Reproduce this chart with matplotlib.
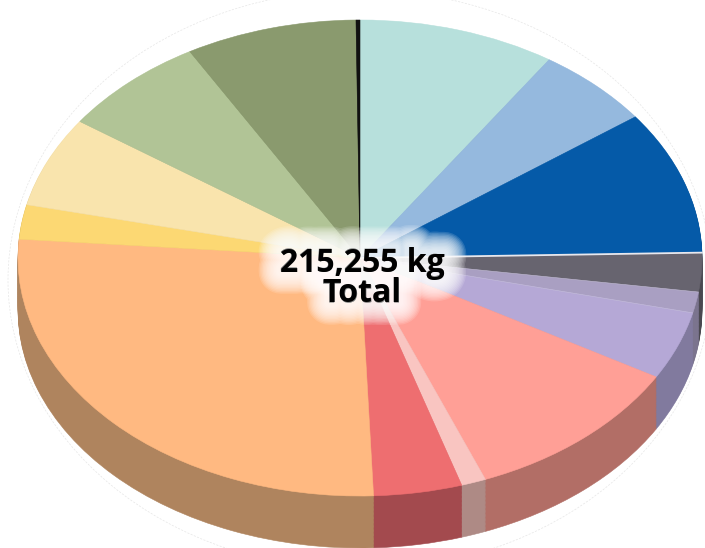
import numpy as np
import matplotlib
matplotlib.use("Agg")
import matplotlib.pyplot as plt
import matplotlib.patheffects as pe
from matplotlib.patches import Ellipse

# slices clockwise from 12 o'clock, kg
slice_kg = [20030, 11960, 20930, 5680, 3050, 9930, 22970, 2510, 8970,
            57760, 5020, 13150, 15010, 17400, 400]
top_colors = ["#B7E0DC", "#95B9DE", "#055AA8", "#67646F", "#A99FC2", "#B5A8D6", "#FF9F96",
              "#F9C5C1", "#EE6E70", "#FFB981", "#FCD873", "#F9E4AD", "#B1C496", "#8A9A6E", "#111111"]
wall_colors = ["#7E9B98", "#67809A", "#043E74", "#4A4850", "#7B748E", "#817A9E", "#B26E66",
               "#AE8A85", "#A34A4E", "#AF845E", "#AE9550", "#AC9E78", "#7A8868", "#5F6B4C", "#111111"]
total_label = "215,255 kg"
sub_label = "Total"

# pixel geometry of the ellipse
CX, CY, RX, RY = 360, 258, 342, 238
DEPTH = 52 / RY


def draw_pie(ax, colors, off):
    wedges, _ = ax.pie(slice_kg, colors=colors, startangle=90, counterclock=False,
                       radius=1, center=(0, -off))
    for w, c in zip(wedges, colors):
        w.set_edgecolor(c)
        w.set_linewidth(0.4)


def main():
    fig = plt.figure(figsize=(7.05, 5.48), dpi=100)
    ax = fig.add_axes([0, 0, 1, 1])

    # faint outline behind the pie
    ax.add_patch(Ellipse((0, -22 / RY), 2 * 352 / RX, 2 * 290 / RY, fill=False,
                         ec="#E6E6E6", lw=0.5, ls=(0, (3, 2)), zorder=0))

    # side wall: stack of darker pies going down
    for off in np.linspace(DEPTH, 0.004, 40):
        draw_pie(ax, wall_colors, off)
    draw_pie(ax, top_colors, 0)

    # pale seams around the dark grey slice
    edges = np.cumsum(slice_kg) / np.sum(slice_kg) * 2 * np.pi
    for i, lw, a in [(2, 1.3, 1.0), (3, 0.4, 0.4), (4, 0.4, 0.4)]:
        ax.plot([0, np.sin(edges[i])], [0, np.cos(edges[i])], color="#E8E8EE", lw=lw, alpha=a, zorder=5)

    ax.set_aspect("auto")
    ax.set_xlim(-CX / RX, (705 - CX) / RX)
    ax.set_ylim((CY - 548) / RY, CY / RY)
    ax.axis("off")

    lines = [(total_label, 263), (sub_label, 294)]

    # white glow behind the label, many thin passes so it fades out softly
    for lw in np.arange(32, 4, -2):
        for txt, py in lines:
            ax.text((362 - CX) / RX, (CY - py) / RY, txt, ha="center", va="center",
                    family="Open Sans", weight="bold", fontsize=23, color="none", zorder=6,
                    path_effects=[pe.withStroke(linewidth=lw, foreground="white", alpha=0.14)])

    for txt, py in lines:
        ax.text((362 - CX) / RX, (CY - py) / RY, txt, ha="center", va="center",
                family="Open Sans", weight="bold", fontsize=23, color="black", zorder=7)

    fig.savefig("out.png", dpi=100)


if __name__ == "__main__":
    main()
